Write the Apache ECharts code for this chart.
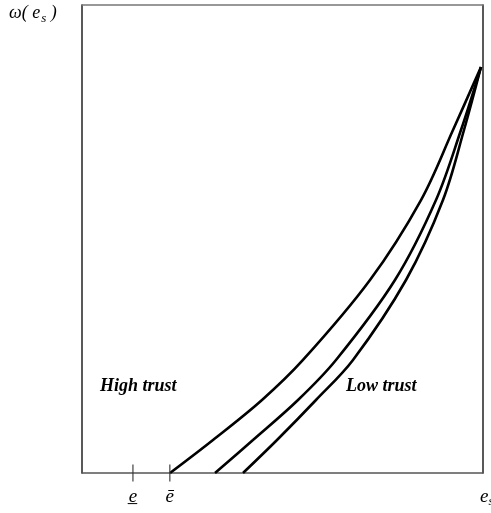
<!DOCTYPE html>
<html>
<head>
<meta charset="utf-8">
<script src="https://cdn.jsdelivr.net/npm/echarts@6/dist/echarts.min.js"></script>
<style>html,body{margin:0;padding:0;background:#fff}#c{width:491px;height:513px}</style>
</head>
<body>
<div id="c"></div>
<script>
// Shared omega levels (y) for the three curves
var yLevels = [0, 7.05, 15.6, 24.15, 41.24, 58.33, 73.29, 86.75];
// e_s values (x) of each curve at those levels
var curveHigh = [21.95, 32.67, 44.89, 55.11, 71.82, 84.54, 92.52, 99.5];
var curveMid  = [33.17, 42.64, 53.87, 63.34, 78.05, 88.28, 94.51, 99.5];
var curveLow  = [40.15, 48.63, 58.35, 67.58, 80.80, 90.02, 95.26, 99.5];
// x-axis marks
var tickPositions = [12.7, 21.9];
var tickLabels = ['e\u0332', '\u0113'];

function pairs(xs) { return xs.map(function (x, i) { return [x, yLevels[i]]; }); }

var serif = '"Liberation Serif", "DejaVu Serif", serif';
var chart = echarts.init(document.getElementById('c'));
function curve(xs) {
  return {
    type: 'line', data: pairs(xs), smooth: 0.35,
    symbol: 'none', lineStyle: { color: '#000', width: 2.6 }, z: 3
  };
}
chart.setOption({
  animation: false,
  grid: { left: 82, right: 8, top: 5, bottom: 40 },
  xAxis: [{
    type: 'value', min: 0, max: 100,
    axisLine: { show: true, lineStyle: { color: '#555', width: 1.5 } },
    axisTick: { show: false },
    splitLine: { show: false },
    axisLabel: {
      customValues: tickPositions, margin: 14,
      fontFamily: serif, fontStyle: 'italic', fontSize: 19, color: '#000',
      formatter: function (v) { var i = tickPositions.indexOf(v); return i >= 0 ? tickLabels[i] : ''; }
    }
  }, {
    type: 'value', min: 0, max: 100, position: 'top',
    axisLine: { show: true, onZero: false, lineStyle: { color: '#777', width: 1.5 } },
    axisTick: { show: false }, axisLabel: { show: false }, splitLine: { show: false }
  }],
  yAxis: [{
    type: 'value', min: 0, max: 100,
    axisLine: { show: true, lineStyle: { color: '#222', width: 1.5 } },
    axisTick: { show: false }, axisLabel: { show: false }, splitLine: { show: false }
  }, {
    type: 'value', min: 0, max: 100, position: 'right',
    axisLine: { show: true, onZero: false, lineStyle: { color: '#222', width: 1.5 } },
    axisTick: { show: false }, axisLabel: { show: false }, splitLine: { show: false }
  }],
  series: [
    curve(curveHigh), curve(curveMid), curve(curveLow),
    {
      type: 'scatter', data: tickPositions.map(function (x) { return [x, 0]; }),
      symbol: 'rect', symbolSize: [1.4, 17], itemStyle: { color: '#333' }, z: 4
    }
  ],
  graphic: [
    {
      type: 'text', left: 9, top: 4,
      style: {
        text: '{a|\u03c9( e}{s|s}{a| )}',
        rich: {
          a: { fontFamily: serif, fontStyle: 'italic', fontSize: 18, fill: '#000' },
          s: { fontFamily: serif, fontStyle: 'italic', fontSize: 13, fill: '#000', padding: [11, 0, 0, 1] }
        }
      }
    },
    {
      type: 'text', left: 100, top: 377,
      style: { text: 'High trust', fontFamily: serif, fontStyle: 'italic', fontWeight: 'bold', fontSize: 18, fill: '#000' }
    },
    {
      type: 'text', left: 346, top: 377,
      style: { text: 'Low trust', fontFamily: serif, fontStyle: 'italic', fontWeight: 'bold', fontSize: 18, fill: '#000' }
    },
    {
      type: 'text', left: 480, top: 487,
      style: {
        text: '{a|e}{s|s}',
        rich: {
          a: { fontFamily: serif, fontStyle: 'italic', fontSize: 19, fill: '#000' },
          s: { fontFamily: serif, fontStyle: 'italic', fontSize: 13, fill: '#000', padding: [11, 0, 0, 0] }
        }
      }
    }
  ]
});
</script>
</body>
</html>
